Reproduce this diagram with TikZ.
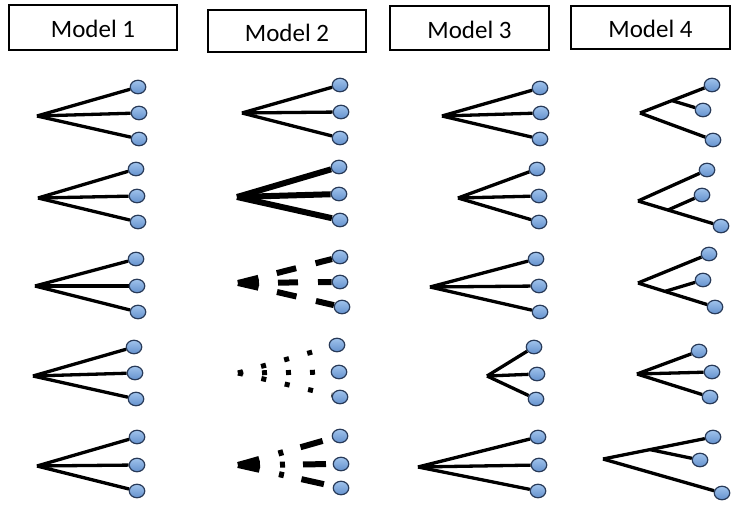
\documentclass[tikz,border=0pt]{standalone}
\usepackage{fontspec}
\setmainfont{Carlito}
\usetikzlibrary{shapes.geometric}
\definecolor{leaftop}{RGB}{160,195,236}
\definecolor{leafbot}{RGB}{100,145,205}
\definecolor{leafdraw}{RGB}{40,58,88}
\pgfdeclarelayer{bg}
\pgfsetlayers{bg,main}
\tikzset{
  leaf/.style={ellipse, draw=leafdraw, line width=1.2pt, top color=leaftop, bottom color=leafbot,
    minimum width=15.5pt, minimum height=13.5pt, inner sep=0pt},
  hdr/.style={draw, line width=2pt, inner sep=0pt, font=\fontsize{25}{29}\selectfont,
    text height=21pt, text depth=0pt},
  br/.style={line width=3.3pt},
  thickbr/.style={line width=6pt},
  dashbr/.style={line width=6pt, dash pattern=on 21pt off 19pt on 20pt off 20pt on 40pt},
  dotbr/.style={line width=5pt, dash pattern=on 5pt off 19pt},
  mixbr/.style={line width=6pt, dash pattern=on 22pt off 20pt on 5pt off 18pt on 23pt off 50pt}
}
\newcommand\mytree[6]{%
  \coordinate (#1r) at (#2);
  \node[leaf] (#1a) at (#3) {};
  \node[leaf] (#1b) at (#4) {};
  \node[leaf] (#1c) at (#5) {};
  \begin{pgfonlayer}{bg}
  \draw[#6] (#1r) -- (#1a);
  \draw[#6] (#1r) -- (#1b);
  \draw[#6] (#1r) -- (#1c);
  \end{pgfonlayer}
}
\begin{document}
\begin{tikzpicture}[x=1pt,y=-1pt]
\useasboundingbox (0,0) rectangle (740,511);
% headers
\node[hdr, minimum width=168pt, minimum height=45pt] (h1) at (93,27.5) {Model 1};
\node[hdr, minimum width=158pt, minimum height=42pt] (h2) at (287,31) {Model 2};
\node[hdr, minimum width=159pt, minimum height=44pt] (h3) at (469.5,28) {Model 3};
\node[hdr, minimum width=159pt, minimum height=43pt] (h4) at (650.5,27.5) {Model 4};
% Model 1
\mytree{a1}{37,116}{138,87}{139,113}{139,139}{br}
\mytree{a2}{38,198}{136,169}{137,196}{138,222}{br}
\mytree{a3}{35,286}{136,259}{137,286}{138,312}{br}
\mytree{a4}{33,376}{134,347}{135,373}{136,399}{br}
\mytree{a5}{37,466}{137,437}{137,465}{137,491}{br}
% Model 2
\mytree{b1}{242,113}{340,85}{341,112}{340,138}{br}
\mytree{b2}{237,197}{339,167}{339,194}{340,220}{thickbr}
\mytree{b3}{238,283}{340,257}{340,282}{342,307}{dashbr}
\mytree{b4}{238,373}{337,345}{339,372}{340,397}{dotbr}
\mytree{b5}{238,465}{340,436}{341,464}{341,488}{mixbr}
% Model 3
\mytree{c1}{442,116}{540,88}{541,113}{540,139}{br}
\mytree{c2}{458,198}{537,169}{539,196}{539,222}{br}
\mytree{c3}{430,287}{536,259}{539,286}{540,312}{br}
\mytree{c4}{487,376}{534,347}{537,374}{536,399}{br}
\mytree{c5}{418,467}{538,437}{539,465}{538,491}{br}
% Model 4
\coordinate (d1r) at (640,113);
\node[leaf] (d1a) at (712,85) {};
\node[leaf] (d1b) at (703,110) {};
\node[leaf] (d1c) at (713,140) {};
\coordinate (d1i) at (672,100.6);
\coordinate (d2r) at (638,201);
\node[leaf] (d2a) at (707,170) {};
\node[leaf] (d2b) at (702,195) {};
\node[leaf] (d2c) at (721,226) {};
\coordinate (d2i) at (668,210);
\coordinate (d3r) at (638,283);
\node[leaf] (d3a) at (709,254) {};
\node[leaf] (d3b) at (703,280) {};
\node[leaf] (d3c) at (715,307) {};
\coordinate (d3i) at (665,291.4);
\mytree{d4}{637,374}{699,351}{712,372}{710,397}{br}
\coordinate (d5r) at (603,459);
\node[leaf] (d5a) at (713,437) {};
\node[leaf] (d5b) at (700,460) {};
\node[leaf] (d5c) at (722,493) {};
\coordinate (d5i) at (650,449.6);
\begin{pgfonlayer}{bg}
\draw[br] (d1r) -- (d1a); \draw[br] (d1i) -- (d1b); \draw[br] (d1r) -- (d1c);
\draw[br] (d2r) -- (d2a); \draw[br] (d2i) -- (d2b); \draw[br] (d2r) -- (d2c);
\draw[br] (d3r) -- (d3a); \draw[br] (d3i) -- (d3b); \draw[br] (d3r) -- (d3c);
\draw[br] (d5r) -- (d5a); \draw[br] (d5i) -- (d5b); \draw[br] (d5r) -- (d5c);
\end{pgfonlayer}
\end{tikzpicture}
\end{document}
